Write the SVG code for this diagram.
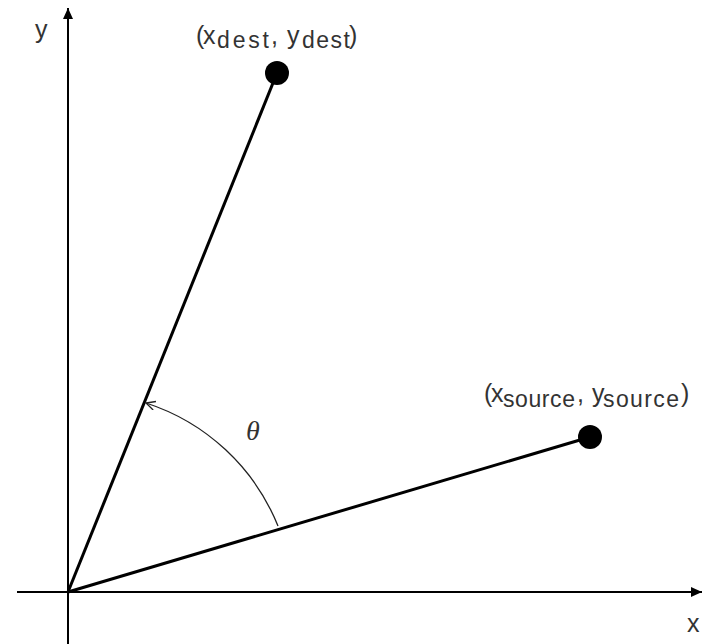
<svg xmlns="http://www.w3.org/2000/svg" width="704" height="644" viewBox="0 0 704 644">
<style>
.axis{stroke:#000;stroke-width:2;fill:none}
.vec{stroke:#000;stroke-width:3;fill:none}
.arc{stroke:#222;stroke-width:1.3;fill:none}
.pt{fill:#000}
text{font-family:"Liberation Sans",Arial,sans-serif;fill:#333;font-size:25px}
.sub{font-size:23px}
</style>
<defs>
<marker id="ah" markerWidth="12" markerHeight="12" refX="11" refY="5" orient="auto" markerUnits="userSpaceOnUse">
<path d="M0,0 L11,5 L0,10 Z" fill="#000"/>
</marker>
<marker id="open" markerWidth="12" markerHeight="12" refX="10" refY="5" orient="auto" markerUnits="userSpaceOnUse">
<path d="M1,0.5 L10,5 L1,9.5" fill="none" stroke="#222" stroke-width="1.3"/>
</marker>
</defs>
<g id="connectors">
<line id="x-axis" class="axis" x1="17" y1="592" x2="702" y2="592" marker-end="url(#ah)"/>
<line id="y-axis" class="axis" x1="68" y1="644" x2="68" y2="8" marker-end="url(#ah)"/>
<line id="vec-dest" class="vec" x1="68" y1="592" x2="277" y2="73"/>
<line id="vec-source" class="vec" x1="68" y1="592" x2="590" y2="437"/>
<path id="angle-arc" class="arc" d="M278,526 A213,213 0 0 0 146,403" marker-end="url(#open)"/>
</g>
<g id="dest">
<circle class="pt" cx="277" cy="73" r="12"/>
<text y="44"><tspan x="196">(</tspan><tspan x="203">x</tspan><tspan x="217" y="48" class="sub" textLength="52">dest</tspan><tspan x="271" y="44">,</tspan><tspan x="287">y</tspan><tspan x="302" y="48" class="sub" textLength="48">dest</tspan><tspan x="349" y="44">)</tspan></text>
</g>
<g id="source">
<circle class="pt" cx="590" cy="437" r="12"/>
<text y="402"><tspan x="484">(</tspan><tspan x="491">x</tspan><tspan x="503" y="407" class="sub" textLength="72">source</tspan><tspan x="577" y="402">,</tspan><tspan x="592">y</tspan><tspan x="603" y="407" class="sub" textLength="76">source</tspan><tspan x="681" y="402">)</tspan></text>
</g>
<g id="labels">
<text x="35" y="38" style="font-size:25px">y</text>
<text x="687" y="632" style="font-size:25px">x</text>
<text x="246" y="440" style="font-family:'Liberation Serif',serif;font-style:italic;font-size:28px">θ</text>
</g>
</svg>
